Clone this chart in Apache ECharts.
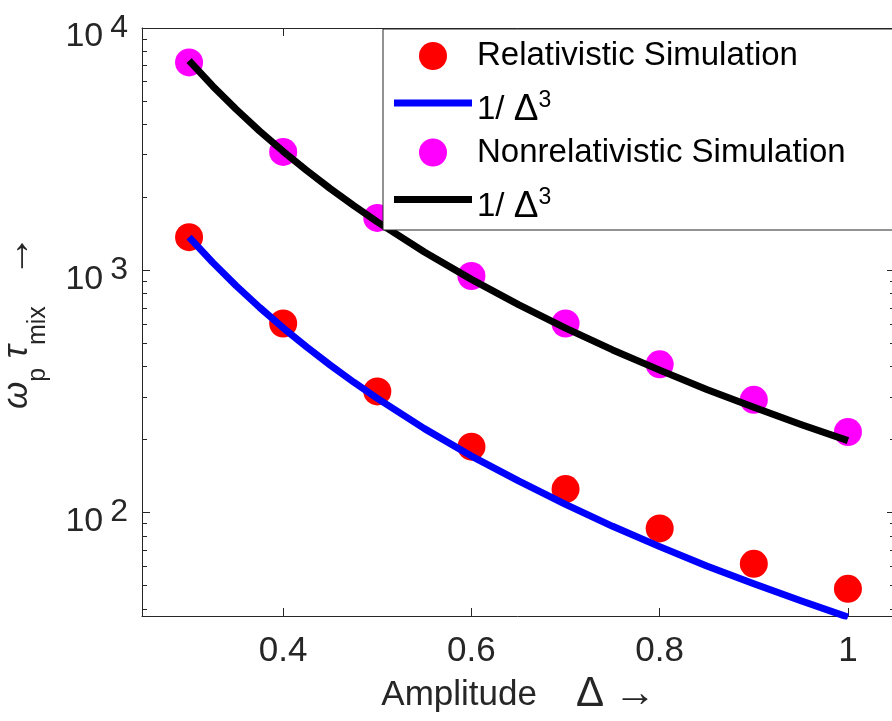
<!DOCTYPE html>
<html><head><meta charset="utf-8">
<script src="https://cdn.jsdelivr.net/npm/echarts@6/dist/echarts.min.js"></script>
<style>html,body{margin:0;padding:0;background:#fff}#c{width:892px;height:721px}</style>
</head><body><div id="c"></div>
<script>
const amplitude = [0.3, 0.4, 0.5, 0.6, 0.7, 0.8, 0.9, 1.0];
const relativistic = [1370, 603, 316, 187, 125, 86, 61.4, 48.4];
const nonrelativistic = [7210, 3080, 1645, 947, 603, 409, 292, 215];
const fitAmplitude = [0.3, 0.325, 0.35, 0.375, 0.4, 0.425, 0.45, 0.475, 0.5, 0.55, 0.6, 0.65, 0.7, 0.75, 0.8, 0.85, 0.9, 0.95, 1.0];
const fitRelativistic = [1370, 1078, 863, 702, 578, 482, 406, 345, 296, 222, 171, 135, 108, 87.7, 72.3, 60.2, 50.8, 43.2, 37];
const fitNonrelativistic = [7333, 5767, 4618, 3755, 3094, 2579, 2173, 1848, 1584, 1190, 917, 721, 577, 469, 387, 322, 272, 231, 198];
const xTicks = [0.4, 0.6, 0.8, 1];
const yMajorTicks = [100, 1000, 10000];
const yMinorTicks = [40, 50, 60, 70, 80, 90, 200, 300, 400, 500, 600, 700, 800, 900, 2000, 3000, 4000, 5000, 6000, 7000, 8000, 9000];
const legendNames = ['Relativistic Simulation', 'fitRel', 'Nonrelativistic Simulation', 'fitNonrel'];

const FONT = 'Liberation Sans';
const AX = '#262626';
const LINE_ICON = 'path://M0 0H78V7H0Z';
const pairs = (xs, ys) => xs.map((x, i) => [x, ys[i]]);

const chart = echarts.init(document.getElementById('c'), null, {renderer: 'canvas'});
const yBase = {
  type: 'log', logBase: 10, min: 37.4, max: 10000, gridIndex: 0,
  splitLine: {show: false}
};
chart.setOption({
  animation: false,
  backgroundColor: '#fff',
  grid: {left: 142, top: 28, width: 753, height: 588, outerBoundsMode: 'none', containLabel: false},
  legend: {
    orient: 'vertical', left: 383, top: 29,
    itemWidth: 78, itemHeight: 28, itemGap: 1,
    padding: [4, 70, 5, 11],
    backgroundColor: '#fff', borderColor: AX, borderWidth: 1,
    selectedMode: false, z: 10,
    data: [
      {name: legendNames[0], icon: 'circle'},
      {name: legendNames[1], icon: LINE_ICON},
      {name: legendNames[2], icon: 'circle'},
      {name: legendNames[3], icon: LINE_ICON}
    ],
    textStyle: {
      fontFamily: FONT, fontSize: 33, lineHeight: 46, color: '#000',
      rich: {
        m: {fontFamily: FONT, fontSize: 33, height: 32, lineHeight: 46, verticalAlign: 'bottom', color: '#000'},
        d: {fontFamily: FONT, fontSize: 37, height: 32, lineHeight: 46, verticalAlign: 'bottom', color: '#000'},
        sup: {fontFamily: FONT, fontSize: 23, height: 42, lineHeight: 46, verticalAlign: 'top', color: '#000'}
      }
    },
    formatter: function (n) {
      if (n === 'fitRel' || n === 'fitNonrel') return '{m|1/ }{d|Δ}{sup|3}';
      return n;
    }
  },
  xAxis: [{
    type: 'value', position: 'bottom', min: 0.25, max: 1.05, gridIndex: 0,
    axisLine: {show: true, onZero: false, lineStyle: {color: AX, width: 1}},
    axisTick: {show: true, inside: true, length: 8, customValues: xTicks, lineStyle: {color: AX, width: 1}},
    axisLabel: {customValues: xTicks, fontFamily: FONT, fontSize: 35, color: AX, margin: 18,
      formatter: v => String(v)},
    splitLine: {show: false},
    name: '{a|Amplitude}{a|    }{d|Δ}{a| }{r|→}', nameLocation: 'middle', nameGap: 38,
    nameTextStyle: {
      color: AX,
      rich: {
        a: {fontFamily: FONT, fontSize: 35, lineHeight: 40, color: AX},
        d: {fontFamily: FONT, fontSize: 42, lineHeight: 40, color: AX},
        r: {fontFamily: FONT, fontSize: 42, lineHeight: 40, color: AX}
      }
    }
  }, {
    type: 'value', position: 'top', min: 0.25, max: 1.05, gridIndex: 0,
    axisLine: {show: true, onZero: false, lineStyle: {color: AX, width: 1}},
    axisTick: {show: true, inside: true, length: 8, customValues: xTicks, lineStyle: {color: AX, width: 1}},
    axisLabel: {show: false},
    splitLine: {show: false}
  }],
  yAxis: [Object.assign({}, yBase, {
    position: 'left',
    axisLine: {show: true, onZero: false, lineStyle: {color: AX, width: 1}},
    axisTick: {show: true, inside: true, length: 8, customValues: yMajorTicks, lineStyle: {color: AX, width: 1}},
    axisLabel: {
      customValues: yMajorTicks, margin: 14, color: AX,
      formatter: v => '{b|10}{s|' + Math.round(Math.log10(v)) + '}',
      rich: {
        b: {fontFamily: FONT, fontSize: 34, height: 26, lineHeight: 44, verticalAlign: 'bottom', color: AX},
        s: {fontFamily: FONT, fontSize: 32, height: 44, lineHeight: 44, verticalAlign: 'top', padding: [0, 0, 0, 7], color: AX}
      }
    },
    name: '{g|ω}{s|p}{g| τ}{s|mix}{g|   }{r|→}',
    nameLocation: 'middle', nameGap: 92, nameRotate: 90,
    nameTextStyle: {
      color: AX,
      rich: {
        g: {fontFamily: FONT, fontSize: 35, fontStyle: 'italic', height: 30, lineHeight: 48, verticalAlign: 'top', color: AX},
        r: {fontFamily: FONT, fontSize: 42, height: 30, lineHeight: 48, verticalAlign: 'top', color: AX},
        s: {fontFamily: FONT, fontSize: 25, height: 24, lineHeight: 48, verticalAlign: 'bottom', color: AX}
      }
    }
  }), Object.assign({}, yBase, {
    position: 'left',
    axisLine: {show: false},
    axisTick: {show: true, inside: true, length: 5, customValues: yMinorTicks, lineStyle: {color: AX, width: 1}},
    axisLabel: {show: false}
  }), Object.assign({}, yBase, {
    position: 'right',
    axisLine: {show: true, onZero: false, lineStyle: {color: AX, width: 1}},
    axisTick: {show: true, inside: true, length: 8, customValues: yMajorTicks, lineStyle: {color: AX, width: 1}},
    axisLabel: {show: false}
  }), Object.assign({}, yBase, {
    position: 'right',
    axisLine: {show: false},
    axisTick: {show: true, inside: true, length: 5, customValues: yMinorTicks, lineStyle: {color: AX, width: 1}},
    axisLabel: {show: false}
  })],
  series: [{
    name: legendNames[0], type: 'scatter', xAxisIndex: 0, yAxisIndex: 0, z: 2,
    symbol: 'circle', symbolSize: 28, itemStyle: {color: '#ff0000', opacity: 1},
    data: pairs(amplitude, relativistic)
  }, {
    name: legendNames[1], type: 'line', xAxisIndex: 0, yAxisIndex: 0, z: 3,
    symbol: 'none', showSymbol: false, smooth: false,
    lineStyle: {color: '#0000ff', width: 7, join: 'round'}, itemStyle: {color: '#0000ff'},
    data: pairs(fitAmplitude, fitRelativistic)
  }, {
    name: legendNames[2], type: 'scatter', xAxisIndex: 0, yAxisIndex: 0, z: 4,
    symbol: 'circle', symbolSize: 28, itemStyle: {color: '#ff00ff', opacity: 1},
    data: pairs(amplitude, nonrelativistic)
  }, {
    name: legendNames[3], type: 'line', xAxisIndex: 0, yAxisIndex: 0, z: 5,
    symbol: 'none', showSymbol: false, smooth: false,
    lineStyle: {color: '#000000', width: 7, join: 'round'}, itemStyle: {color: '#000000'},
    data: pairs(fitAmplitude, fitNonrelativistic)
  }]
});
</script></body></html>
